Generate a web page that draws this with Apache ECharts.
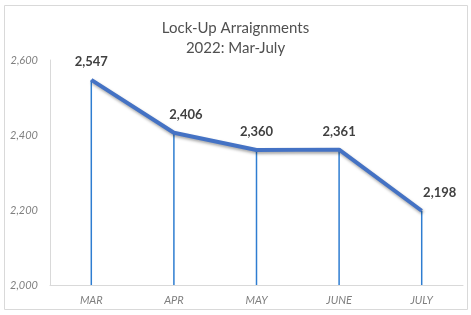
<!DOCTYPE html>
<html>
<head>
<meta charset="utf-8">
<script src="https://cdn.jsdelivr.net/npm/echarts@6/dist/echarts.min.js"></script>
<style>
  html, body { margin: 0; padding: 0; background: #fff; }
  #chart { width: 471px; height: 315px; }
</style>
</head>
<body>
<div id="chart"></div>
<script>
var months = ['MAR', 'APR', 'MAY', 'JUNE', 'JULY'];
var arraignments = [2547, 2406, 2360, 2361, 2198];
var yTicks = [2000, 2200, 2400, 2600];

// small nudges so labels sit like the original
var labelShift = [0, 12, 0, 0, 18];

var myChart = echarts.init(document.getElementById('chart'));

myChart.setOption({
    animation: false,
    title: {
        text: 'Lock-Up Arraignments\n2022: Mar-July',
        left: 'center',
        top: 13,
        textStyle: {
            color: '#505050',
            fontFamily: 'Lato',
            fontSize: 15,
            fontWeight: 'normal',
            lineHeight: 20
        }
    },
    graphic: [{
        type: 'rect',
        shape: { x: 4.5, y: 5.5, width: 463, height: 304 },
        style: { fill: 'none', stroke: '#d9d9d9', lineWidth: 1 },
        silent: true
    }],
    grid: {
        left: 50,
        right: 8,
        top: 60,
        bottom: 30
    },
    xAxis: {
        type: 'category',
        data: months,
        boundaryGap: true,
        axisLine: { lineStyle: { color: '#d9d9d9' } },
        axisTick: { inside: true, length: 3, lineStyle: { color: '#d9d9d9' } },
        axisLabel: {
            color: '#7f7f7f',
            fontStyle: 'italic',
            fontFamily: 'Lato',
            fontSize: 11,
            margin: 10
        }
    },
    yAxis: {
        type: 'value',
        min: yTicks[0],
        max: yTicks[yTicks.length - 1],
        interval: 200,
        axisLine: { show: true, lineStyle: { color: '#d9d9d9' } },
        axisTick: { show: false },
        splitLine: { show: false },
        axisLabel: {
            color: '#7f7f7f',
            fontStyle: 'italic',
            fontFamily: 'Lato',
            fontSize: 11,
            margin: 12,
            formatter: function (v) { return v.toLocaleString('en-US'); }
        }
    },
    series: [{
        // drop lines from each point to the axis
        type: 'bar',
        data: arraignments,
        barWidth: 1.5,
        silent: true,
        itemStyle: { color: '#2e7dd1' }
    }, {
        type: 'line',
        data: arraignments.map(function (v, i) {
            return {
                value: v,
                label: { offset: [labelShift[i], 0] }
            };
        }),
        symbol: 'circle',
        symbolSize: 1,
        itemStyle: { color: 'rgba(0,0,0,0)' },
        lineStyle: {
            color: '#4472c4',
            width: 4,
            shadowColor: 'rgba(0,0,0,0.35)',
            shadowBlur: 3,
            shadowOffsetX: 1,
            shadowOffsetY: 2
        },
        label: {
            show: true,
            position: 'top',
            distance: 11,
            color: '#404040',
            fontFamily: 'Lato',
            fontWeight: 'bold',
            fontSize: 13,
            formatter: function (p) { return p.value.toLocaleString('en-US'); }
        }
    }]
});
</script>
</body>
</html>
